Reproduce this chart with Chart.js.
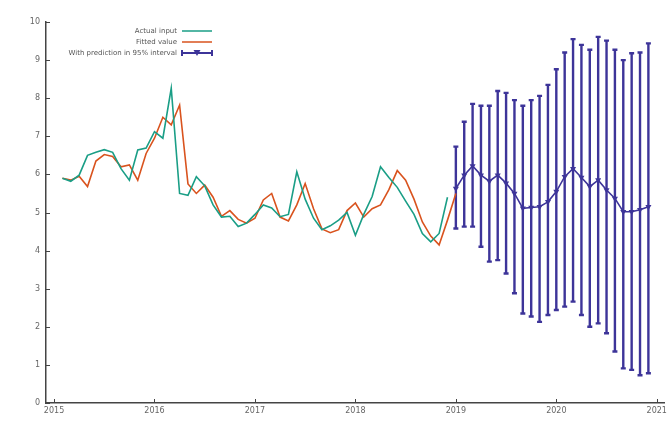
<!DOCTYPE html>
<html>
<head>
<meta charset="utf-8">
<script src="https://cdn.jsdelivr.net/npm/chart.js@4.4.1/dist/chart.umd.min.js"></script>
<style>
html,body{margin:0;padding:0;background:#fff;}
#wrap{width:670px;height:443px;position:relative;}
</style>
</head>
<body>
<div id="wrap"><canvas id="c" width="670" height="443"></canvas></div>
<script>
// ---- data ----
const actualStart = '2015-02';
const actualValues = [5.9,5.82,5.98,6.5,6.58,6.65,6.58,6.15,5.85,6.64,6.69,7.12,6.95,8.26,5.5,5.45,5.94,5.7,5.2,4.88,4.9,4.63,4.72,4.95,5.2,5.12,4.89,4.95,6.07,5.35,4.85,4.55,4.65,4.8,5.0,4.4,4.95,5.42,6.2,5.92,5.66,5.3,4.95,4.45,4.23,4.45,5.4];
const fittedStart = '2015-02';
const fittedValues = [5.9,5.85,5.95,5.68,6.35,6.52,6.47,6.2,6.25,5.85,6.55,6.95,7.5,7.3,7.82,5.75,5.5,5.72,5.4,4.9,5.05,4.82,4.72,4.85,5.33,5.5,4.88,4.78,5.2,5.76,5.1,4.57,4.47,4.55,5.05,5.25,4.88,5.1,5.2,5.6,6.1,5.85,5.35,4.75,4.38,4.15,4.8,5.5];
const forecastStart = '2019-01';
const forecastValues = [5.63,5.98,6.22,5.98,5.82,5.98,5.77,5.5,5.11,5.13,5.15,5.28,5.55,5.94,6.15,5.92,5.68,5.85,5.59,5.37,5.02,5.02,5.07,5.15];
const forecastLower = [4.58,4.63,4.63,4.10,3.71,3.75,3.40,2.88,2.35,2.27,2.13,2.31,2.44,2.53,2.66,2.31,2.00,2.09,1.83,1.35,0.91,0.87,0.73,0.78];
const forecastUpper = [6.73,7.38,7.85,7.80,7.80,8.19,8.14,7.95,7.80,7.95,8.06,8.35,8.76,9.20,9.55,9.40,9.27,9.61,9.51,9.27,9.00,9.18,9.20,9.44];
const yearTicks = [2015,2016,2017,2018,2019,2020,2021];
const legendLabels = ['Actual input','Fitted value','With prediction in 95% interval'];

// month label -> decimal year
function monthToX(label, offset){
  const [y,m] = label.split('-').map(Number);
  const idx = (m-1) + offset;
  return y + idx/12;
}
function toPoints(start, values){
  return values.map((v,i)=>({x:monthToX(start,i), y:v}));
}

const C_ACT = '#1a9e86';
const C_FIT = '#d9531e';
const C_FC  = '#3d3499';
const FONT = '"DejaVu Sans", sans-serif';

const inwardTicks = {
  id:'inwardTicks',
  afterDraw(chart){
    const ctx = chart.ctx, xs = chart.scales.x, ys = chart.scales.y, a = chart.chartArea;
    ctx.save();
    ctx.strokeStyle = '#444'; ctx.lineWidth = 1;
    xs.ticks.forEach(t=>{
      const px = Math.round(xs.getPixelForValue(t.value))+0.5;
      ctx.beginPath(); ctx.moveTo(px,a.bottom); ctx.lineTo(px,a.bottom-4); ctx.stroke();
    });
    ys.ticks.forEach(t=>{
      const py = Math.round(ys.getPixelForValue(t.value))+0.5;
      ctx.beginPath(); ctx.moveTo(a.left,py); ctx.lineTo(a.left+4,py); ctx.stroke();
    });
    ctx.restore();
  }
};

const errorBars = {
  id:'errorBars',
  beforeDatasetsDraw(chart){
    const ctx = chart.ctx, xs = chart.scales.x, ys = chart.scales.y;
    ctx.save();
    ctx.strokeStyle = C_FC; ctx.lineWidth = 2.4;
    forecastValues.forEach((v,i)=>{
      const px = xs.getPixelForValue(monthToX(forecastStart,i));
      const lo = ys.getPixelForValue(forecastLower[i]);
      const hi = ys.getPixelForValue(forecastUpper[i]);
      ctx.beginPath();
      ctx.moveTo(px,lo); ctx.lineTo(px,hi);
      ctx.moveTo(px-2.5,lo); ctx.lineTo(px+2.5,lo);
      ctx.moveTo(px-2.5,hi); ctx.lineTo(px+2.5,hi);
      ctx.stroke();
    });
    ctx.restore();
  }
};

const keyPlugin = {
  id:'keyPlugin',
  afterDraw(chart){
    const ctx = chart.ctx;
    const tx = 177, x0 = 182, x1 = 212;
    const rows = [31,42,53];
    const cols = [C_ACT,C_FIT,C_FC];
    ctx.save();
    ctx.font = '7px ' + FONT;
    ctx.fillStyle = '#555';
    ctx.textAlign = 'right'; ctx.textBaseline = 'middle';
    legendLabels.forEach((t,i)=>{
      ctx.fillText(t, tx, rows[i]);
      ctx.strokeStyle = cols[i]; ctx.lineWidth = i===2 ? 2 : 1.5;
      ctx.beginPath(); ctx.moveTo(x0,rows[i]); ctx.lineTo(x1,rows[i]); ctx.stroke();
    });
    const y = rows[2], cx = (x0+x1)/2;
    ctx.strokeStyle = C_FC; ctx.lineWidth = 2;
    ctx.beginPath();
    ctx.moveTo(x0,y-3); ctx.lineTo(x0,y+3);
    ctx.moveTo(x1,y-3); ctx.lineTo(x1,y+3);
    ctx.stroke();
    ctx.fillStyle = C_FC;
    ctx.beginPath(); ctx.moveTo(cx-3.5,y-3); ctx.lineTo(cx+3.5,y-3); ctx.lineTo(cx,y+3); ctx.closePath(); ctx.fill();
    ctx.restore();
  }
};

new Chart(document.getElementById('c'), {
  type:'line',
  data:{
    datasets:[
      {label:legendLabels[0], data:toPoints(actualStart,actualValues), borderColor:C_ACT, borderWidth:1.6, pointRadius:0, tension:0, fill:false},
      {label:legendLabels[1], data:toPoints(fittedStart,fittedValues), borderColor:C_FIT, borderWidth:1.6, pointRadius:0, tension:0, fill:false},
      {label:legendLabels[2], data:toPoints(forecastStart,forecastValues), borderColor:C_FC, backgroundColor:C_FC, borderWidth:1.6,
        pointStyle:'triangle', rotation:180, pointRadius:3.5, pointBorderWidth:0, tension:0, fill:false}
    ]
  },
  options:{
    responsive:false, animation:false,
    layout:{padding:{top:22,right:2,left:0,bottom:0}},
    plugins:{legend:{display:false}, tooltip:{enabled:false}},
    scales:{
      x:{
        type:'linear', min:2014.92, max:2021.08,
        afterFit(s){ s.height = 40; },
        afterBuildTicks(s){ s.ticks = yearTicks.map(v=>({value:v})); },
        ticks:{stepSize:1, includeBounds:false, autoSkip:false, maxRotation:0, padding:3,
          color:'#666', font:{family:FONT,size:8}, callback:v=>String(v)},
        grid:{display:true, drawOnChartArea:false, drawTicks:false},
        border:{display:true, color:'#444', width:1.5}
      },
      y:{
        min:0, max:10,
        afterFit(s){ s.width = 46; },
        ticks:{stepSize:1, padding:6, color:'#666', font:{family:FONT,size:8}},
        grid:{display:true, drawOnChartArea:false, drawTicks:false},
        border:{display:true, color:'#444', width:1.5}
      }
    }
  },
  plugins:[inwardTicks, errorBars, keyPlugin]
});
</script>
</body>
</html>
